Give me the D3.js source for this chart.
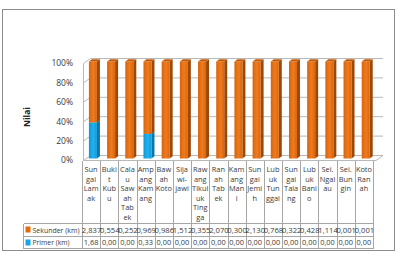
<!DOCTYPE html>
<html><head><meta charset="utf-8">
<script src="https://cdn.jsdelivr.net/npm/d3@7/dist/d3.min.js"></script>
<style>body{margin:0;background:#fff}svg{display:block}text{font-family:"Open Sans","Liberation Sans",sans-serif}</style>
</head><body><svg id="c" width="398" height="254"></svg>
<script>
const categories = ["Sungai Lamak","Bukit Kubu","Calau Sawah Tabek","Ampang Kamang","Bawah Koto","Sijawi-jawi","Rawang Tikuluk Tingga","Ranah Tabek","Kamang Mani","Sungai Jemih","Lubuk Tunggal","Sungai Talang","Lubuk Banio","Sei. Ngalau","Sei. Bungin","Koto Ranah"];
const labelLines = [["Sun","gai","Lam","ak"],["Buki","t","Kub","u"],["Cala","u","Saw","ah","Tab","ek"],["Amp","ang","Kam","ang"],["Baw","ah","Koto"],["Sija","wi-","jawi"],["Raw","ang","Tikul","uk","Ting","ga"],["Ran","ah","Tab","ek"],["Kam","ang","Man","i"],["Sun","gai","Jemi","h"],["Lub","uk","Tun","ggal"],["Sun","gai","Tala","ng"],["Lub","uk","Bani","o"],["Sei.","Ngal","au"],["Sei.","Bun","gin"],["Koto","Ran","ah"]];
const sekunder = [2.837,0.554,0.252,0.969,0.986,1.512,0.355,2.070,0.300,2.130,0.768,0.322,0.428,1.114,0.001,0.001];
const primer = [1.68,0,0,0.33,0,0,0,0,0,0,0,0,0,0,0,0];
const sekunderLabels = ["2,837","0,554","0,252","0,969","0,986","1,512","0,355","2,070","0,300","2,130","0,768","0,322","0,428","1,114","0,001","0,001"];
const primerLabels = ["1,68","0,00","0,00","0,33","0,00","0,00","0,00","0,00","0,00","0,00","0,00","0,00","0,00","0,00","0,00","0,00"];
const yTicks = [0,0.2,0.4,0.6,0.8,1];
const seriesNames = ["Sekunder (km)","Primer (km)"];

const svg = d3.select("#c");
const DX = 7, DY = 5;
const gridCol = "#b8b8b8", tblCol = "#a6a6a6", txtCol = "#3a3a3a";

// outer border
svg.append("rect").attr("x",2.5).attr("y",9.5).attr("width",392).attr("height",241)
  .attr("fill","#fff").attr("stroke","#8c8c8c");

const x = d3.scaleBand().domain(categories).range([82, 373]);
const yBack = d3.scaleLinear().domain([0,1]).range([155.5, 58.5]);
const yFront = d3.scaleLinear().domain([0,1]).range([160.5, 63.5]);
const yBar = d3.scaleLinear().domain([0,1]).range([158.5, 61.5]);

const defs = svg.append("defs");
function grad(id, c1, c2){
  const g = defs.append("linearGradient").attr("id",id).attr("x1","0").attr("x2","1").attr("y1","0").attr("y2","0");
  g.append("stop").attr("offset","0").attr("stop-color",c1);
  g.append("stop").attr("offset","0.55").attr("stop-color",c2);
  g.append("stop").attr("offset","1").attr("stop-color",c1);
}
grad("gO","#d8650c","#f07a1e");
grad("gB","#0f98d8","#22b2f0");

// gridlines on back wall
const x0 = 83.5, x1 = 376;
yTicks.forEach(t=>{
  svg.append("line").attr("x1",x0+DX).attr("x2",x1+DX).attr("y1",yBack(t)).attr("y2",yBack(t)).attr("stroke",gridCol);
  svg.append("line").attr("x1",x0).attr("x2",x0+DX).attr("y1",yFront(t)).attr("y2",yBack(t)).attr("stroke",gridCol);
});
svg.append("line").attr("x1",x0).attr("x2",x0).attr("y1",yFront(1)).attr("y2",yFront(0)).attr("stroke",gridCol);
svg.append("path").attr("d",`M${x0},${yFront(0)}L${x1},${yFront(0)}L${x1+DX},${yBack(0)}`).attr("fill","none").attr("stroke",gridCol);

// y labels
svg.selectAll(".yl").data(yTicks).join("text").attr("x",73).attr("y",t=>yFront(t)+2.8)
  .attr("text-anchor","end").attr("font-size",8.5).attr("fill",txtCol).text(t=>Math.round(t*100)+"%");

// y title
svg.append("text").attr("transform","translate(30,117) rotate(-90)").attr("text-anchor","middle")
  .attr("font-size",8.5).attr("font-weight","bold").attr("fill","#222").text("Nilai");

// bars
const bw = x.bandwidth();
const fw = bw*0.44, sd = 3, su = 2.2;
categories.forEach((c,i)=>{
  const tot = sekunder[i]+primer[i];
  const segs = [
    {v0:0, v1:primer[i]/tot, front:"url(#gB)", side:"#0b76aa", top:"#2bb4ee"},
    {v0:primer[i]/tot, v1:1, front:"url(#gO)", side:"#9c4806", top:"#c45a08"}
  ];
  const bx = x(c) + bw*0.38;
  segs.forEach(s=>{
    if (s.v1 - s.v0 <= 0) return;
    const yt = yBar(s.v1), yb = yBar(s.v0);
    svg.append("path").attr("d",`M${bx+fw},${yt}L${bx+fw+sd},${yt-su}L${bx+fw+sd},${yb-su}L${bx+fw},${yb}Z`).attr("fill",s.side);
    svg.append("rect").attr("x",bx).attr("y",yt).attr("width",fw).attr("height",yb-yt).attr("fill",s.front);
    svg.append("path").attr("d",`M${bx},${yt}L${bx+sd},${yt-su}L${bx+fw+sd},${yt-su}L${bx+fw},${yt}Z`).attr("fill",s.top);
  });
});

// data table
const tTop = yFront(0), r1 = 223.5, r2 = 236.5, r3 = 248.5, lx = 23.5;
const tg = svg.append("g").attr("stroke",tblCol).attr("shape-rendering","crispEdges");
const edges = categories.map(c=>x(c)).concat([x.range()[1]]);
edges.forEach(e=>tg.append("line").attr("x1",Math.round(e)+0.5).attr("x2",Math.round(e)+0.5).attr("y1",tTop).attr("y2",r3));
[r1,r2,r3].forEach(r=>tg.append("line").attr("x1",lx).attr("x2",373.5).attr("y1",r).attr("y2",r));
tg.append("line").attr("x1",lx).attr("x2",lx).attr("y1",r1).attr("y2",r3);

// category labels
categories.forEach((c,i)=>{
  const t = svg.append("text").attr("x",x(c)+bw/2).attr("font-size",7.4).attr("fill",txtCol).attr("text-anchor","middle");
  labelLines[i].forEach((l,j)=>t.append("tspan").attr("x",x(c)+bw/2).attr("y",172+j*9.5).text(l));
});
// values
categories.forEach((c,i)=>{
  svg.append("text").attr("x",x(c)+bw/2+0.5).attr("y",232.5).attr("font-size",7.4).attr("fill",txtCol)
    .attr("text-anchor","middle").attr("textLength",19.5).attr("lengthAdjust","spacingAndGlyphs").text(sekunderLabels[i]);
  svg.append("text").attr("x",x(c)+bw/2).attr("y",245).attr("font-size",7.4).attr("fill",txtCol)
    .attr("text-anchor","middle").text(primerLabels[i]);
});
// legend keys
svg.append("rect").attr("x",25.5).attr("y",226.5).attr("width",5).attr("height",6).attr("fill","#e46c0a");
svg.append("rect").attr("x",25.5).attr("y",239.5).attr("width",5).attr("height",6).attr("fill","#14a6e8");
svg.append("text").attr("x",32.5).attr("y",232.5).attr("font-size",7.4).attr("fill",txtCol)
  .attr("textLength",47).attr("lengthAdjust","spacingAndGlyphs").text(seriesNames[0]);
svg.append("text").attr("x",32.5).attr("y",245).attr("font-size",7.4).attr("fill",txtCol)
  .attr("textLength",37).attr("lengthAdjust","spacingAndGlyphs").text(seriesNames[1]);
</script></body></html>
